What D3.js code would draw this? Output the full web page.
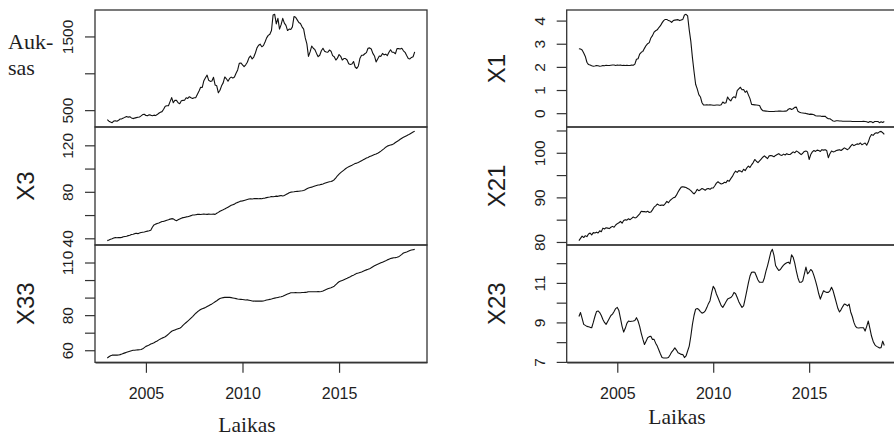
<!DOCTYPE html>
<html><head><meta charset="utf-8">
<script src="https://cdn.jsdelivr.net/npm/d3@7"></script>
<style>html,body{margin:0;padding:0;background:#fff;}svg{display:block;}</style>
</head><body>
<svg id="c" width="894" height="435"></svg>
<script>
// Monthly series, Jan 2003 .. Dec 2018
const startYear = 2003;
const auksas = [
370,350,338,330,352,356,350,362,380,382,392,405,
414,405,410,395,385,392,398,404,408,422,440,445,
428,425,436,432,425,432,426,440,458,472,480,512,
552,560,560,615,670,600,635,632,600,588,628,632,
635,668,658,682,668,658,668,670,715,760,810,808,
900,940,975,905,890,895,945,840,830,735,770,830,
870,950,925,892,930,948,935,950,1000,1045,1135,1140,
1115,1090,1115,1150,1210,1235,1195,1220,1275,1345,1380,1395,
1360,1375,1425,1480,1515,1530,1580,1790,1800,1670,1745,1600,
1660,1745,1680,1650,1580,1600,1595,1630,1770,1760,1725,1690,
1675,1630,1600,1480,1400,1230,1290,1370,1340,1320,1270,1225,
1245,1305,1340,1300,1290,1285,1315,1300,1240,1225,1180,1205,
1255,1230,1180,1200,1200,1180,1130,1120,1125,1160,1085,1065,
1100,1205,1245,1245,1265,1280,1340,1345,1330,1270,1235,1155,
1195,1235,1230,1270,1250,1260,1240,1285,1320,1285,1285,1265,
1335,1335,1330,1340,1305,1285,1240,1200,1195,1215,1225,1290];
const x3 = [
38.0,38.5,39.2,39.6,40.2,40.6,40.5,40.7,40.6,40.8,41.3,41.6,
41.8,42.3,42.6,43.2,43.5,44.0,44.3,44.0,44.6,45.0,45.2,45.4,
45.8,46.2,46.5,47.0,49.5,51.5,52.2,52.8,53.2,53.8,54.4,54.6,
55.0,55.6,56.0,56.5,56.9,56.7,55.8,55.2,55.9,56.6,57.3,57.8,
58.0,58.4,58.5,59.0,59.5,60.1,60.0,60.3,60.6,60.7,60.5,60.7,
60.8,60.7,60.6,60.8,60.7,60.7,60.8,60.6,61.5,62.3,63.3,64.0,
64.5,65.3,66.0,66.8,67.6,68.4,68.9,69.4,70.3,70.9,71.4,72.0,
72.2,72.6,73.0,73.4,73.8,74.0,73.8,74.1,74.2,74.1,74.0,74.2,
74.0,74.4,74.6,75.0,75.3,75.6,76.0,75.7,76.0,76.3,76.1,76.5,
76.8,76.4,76.9,77.6,78.4,79.2,79.7,79.8,80.0,80.3,80.4,80.5,
80.7,80.9,81.2,81.8,82.6,83.3,83.7,84.0,84.5,85.0,85.4,85.8,
86.0,86.4,86.8,87.3,87.8,88.3,88.6,88.9,89.4,90.4,92.0,93.8,
95.2,96.5,97.6,98.7,99.8,100.8,101.6,102.3,102.9,103.6,104.3,104.7,
105.3,106.0,106.8,107.5,108.3,109.0,109.6,110.3,110.9,111.5,112.1,112.5,
113.2,114.0,115.0,116.1,117.2,118.4,119.3,119.8,120.3,120.6,121.4,122.4,
123.3,124.2,125.2,126.1,126.9,127.6,128.3,129.0,129.8,130.6,131.4,132.0];
const x33 = [
55.6,56.3,56.9,57.2,57.2,57.3,57.2,57.3,57.5,57.8,58.2,58.5,
58.8,59.1,59.4,59.7,60.0,60.0,60.1,60.2,60.3,60.4,60.8,61.5,
62.2,62.6,63.0,63.5,63.9,64.3,64.8,65.3,65.9,66.4,66.9,67.3,
67.7,68.4,69.2,70.0,70.8,71.2,71.6,72.0,72.3,72.5,73.2,74.2,
75.0,75.8,76.6,77.4,78.3,79.2,80.2,81.1,81.9,82.6,83.2,83.7,
84.0,84.4,84.9,85.4,85.9,86.4,87.0,87.6,88.2,88.9,89.5,89.8,
90.0,90.1,90.1,90.2,90.1,90.0,89.8,89.6,89.4,89.2,89.1,89.0,
88.9,88.8,88.6,88.7,88.5,88.3,88.1,88.0,88.1,88.0,88.0,88.0,
88.0,88.1,88.3,88.6,88.8,89.0,89.2,89.5,89.7,89.9,90.1,90.3,
90.5,90.8,91.2,91.6,92.0,92.4,92.8,92.8,92.8,92.9,92.8,92.8,
92.8,92.9,92.9,93.0,93.1,93.3,93.3,93.3,93.3,93.3,93.3,93.4,
93.3,93.5,93.8,94.2,94.6,95.0,95.3,95.6,96.0,96.5,97.4,98.3,
99.0,99.4,99.8,100.2,100.6,101.0,101.5,101.9,102.4,102.8,103.3,103.8,
104.0,104.3,104.6,105.0,105.4,105.8,106.1,106.5,107.0,107.6,108.1,108.6,
109.0,109.4,109.8,110.2,110.6,111.0,111.5,111.9,112.3,112.5,112.7,112.8,
113.0,113.3,113.9,114.6,115.4,115.7,116.0,116.4,116.8,117.1,117.3,117.5];
const x1 = [
2.78,2.77,2.73,2.60,2.45,2.20,2.10,2.08,2.05,2.03,2.04,2.06,
2.05,2.03,2.04,2.06,2.05,2.07,2.06,2.06,2.07,2.08,2.08,2.06,
2.08,2.07,2.08,2.06,2.07,2.06,2.07,2.06,2.06,2.08,2.07,2.12,
2.33,2.35,2.55,2.63,2.67,2.80,2.92,3.00,3.05,3.25,3.35,3.50,
3.56,3.60,3.70,3.78,3.90,4.00,4.05,4.05,4.00,3.98,3.92,4.00,
4.02,4.03,4.04,4.00,4.03,4.05,4.24,4.27,4.20,3.60,3.10,2.40,
1.80,1.25,1.05,0.80,0.70,0.45,0.35,0.35,0.36,0.35,0.36,0.35,
0.34,0.34,0.35,0.35,0.34,0.36,0.48,0.43,0.45,0.70,0.59,0.53,
0.66,0.71,0.66,0.97,1.05,1.12,1.01,1.02,0.90,0.96,0.79,0.63,
0.38,0.37,0.36,0.35,0.34,0.33,0.18,0.11,0.10,0.09,0.08,0.07,
0.07,0.07,0.07,0.08,0.08,0.09,0.09,0.08,0.08,0.09,0.10,0.17,
0.20,0.16,0.19,0.25,0.26,0.08,0.04,0.02,0.01,0.00,-0.01,-0.03,
-0.05,-0.04,-0.05,-0.07,-0.11,-0.12,-0.12,-0.12,-0.14,-0.14,-0.13,-0.20,
-0.24,-0.24,-0.29,-0.34,-0.35,-0.33,-0.33,-0.34,-0.34,-0.35,-0.35,-0.35,
-0.35,-0.35,-0.35,-0.36,-0.36,-0.36,-0.36,-0.36,-0.36,-0.36,-0.35,-0.36,
-0.37,-0.40,-0.36,-0.37,-0.41,-0.36,-0.36,-0.36,-0.41,-0.37,-0.40,-0.36];
const x21 = [
80.3,80.8,81.3,81.0,81.4,81.2,81.8,82.0,81.6,82.1,82.0,82.2,
82.0,82.5,82.3,83.1,82.9,83.2,83.1,83.0,83.3,83.5,83.3,83.8,
84.1,84.3,84.6,84.2,84.8,85.0,84.9,85.2,85.0,85.3,85.6,85.4,
85.5,85.9,86.3,86.9,86.8,86.8,86.7,86.9,86.6,86.7,87.2,87.8,
88.1,88.5,88.3,88.2,88.3,88.2,88.6,89.1,88.8,89.3,89.6,89.9,
90.0,90.5,91.2,91.8,92.3,92.4,92.3,92.2,92.0,91.8,91.5,91.1,
90.8,91.2,91.8,91.5,91.7,92.0,91.8,91.6,91.9,92.0,91.8,92.1,
92.1,92.6,93.2,93.5,93.2,93.0,93.1,93.4,93.3,93.8,93.6,94.2,
94.7,95.4,95.9,95.6,96.0,95.9,95.7,96.3,96.0,96.6,97.0,96.7,
97.3,97.8,98.5,98.1,97.8,98.2,98.6,99.0,99.3,99.0,98.7,99.3,
99.4,99.3,99.1,99.4,99.6,99.8,99.5,99.4,99.7,99.5,99.8,99.6,
99.6,99.9,100.2,100.0,100.4,100.2,99.9,99.6,99.9,100.3,100.4,100.2,
98.5,99.6,100.2,100.5,100.3,100.6,100.5,100.3,100.7,100.6,100.7,100.5,
98.9,99.8,100.4,100.2,100.3,100.5,100.6,100.7,100.5,100.8,101.1,100.9,
100.7,101.0,101.5,101.9,101.6,101.8,102.0,101.9,102.2,101.8,102.0,102.2,
101.7,102.4,103.5,104.1,103.9,104.3,104.5,104.4,104.7,104.8,104.5,104.1];
const x23 = [
9.30,9.50,9.20,8.90,8.85,8.80,8.78,8.75,8.73,9.00,9.30,9.55,
9.58,9.50,9.35,9.15,9.00,8.90,9.05,9.20,9.35,9.42,9.55,9.70,
9.76,9.60,9.20,8.80,8.51,8.70,8.95,9.07,9.05,9.06,9.07,9.10,
9.24,9.07,8.80,8.45,8.15,7.88,8.05,8.22,8.28,8.30,8.14,8.14,
7.95,7.80,7.60,7.40,7.22,7.20,7.20,7.20,7.22,7.35,7.50,7.60,
7.71,7.60,7.46,7.42,7.38,7.37,7.22,7.30,7.55,7.80,8.30,8.90,
9.35,9.67,9.70,9.65,9.55,9.47,9.50,9.58,9.75,9.95,10.10,10.50,
10.83,10.70,10.44,10.25,10.05,9.85,9.76,9.90,10.05,10.18,10.22,10.26,
10.35,10.52,10.45,10.26,10.05,9.90,9.76,9.84,10.20,10.60,11.00,11.35,
11.54,11.55,11.54,11.35,11.15,11.03,11.03,11.03,11.25,11.60,11.88,12.20,
12.55,12.70,12.40,11.88,11.75,11.63,11.68,11.80,11.90,11.97,12.02,12.05,
11.97,12.42,12.30,12.00,11.60,11.25,11.03,11.03,11.10,11.45,11.80,11.46,
11.55,11.68,11.60,11.37,11.10,10.80,10.45,10.18,10.40,10.60,10.55,10.52,
10.52,10.60,10.78,10.60,10.30,10.00,9.70,9.53,9.65,9.80,9.93,9.90,
9.84,9.93,9.53,9.30,9.00,8.80,8.73,8.72,8.73,8.73,8.73,8.56,
8.80,9.07,8.70,8.31,8.05,7.88,7.80,7.75,7.71,7.72,8.05,7.83];

const xTicks = [2005, 2010, 2015];
const xTickLabels = ["2005", "2010", "2015"];
const xTitle = "Laikas";

const panelNames = ["Auksas", "X3", "X33", "X1", "X21", "X23"];
const panelSeries = [auksas, x3, x33, x1, x21, x23];
const yTicksAuksas = [500, 1000, 1500];   const yLabAuksas = ["500", "", "1500"];
const yTicksX3 = [40, 60, 80, 100, 120];   const yLabX3 = ["40", "", "80", "", "120"];
const yTicksX33 = [60, 70, 80, 90, 100, 110]; const yLabX33 = ["60", "", "80", "", "", "110"];
const yTicksX1 = [0, 1, 2, 3, 4];          const yLabX1 = ["0", "1", "2", "3", "4"];
const yTicksX21 = [80, 85, 90, 95, 100, 105]; const yLabX21 = ["80", "", "90", "", "100", ""];
const yTicksX23 = [7, 8, 9, 10, 11, 12];   const yLabX23 = ["7", "", "9", "", "11", ""];
const panelTicks = [yTicksAuksas, yTicksX3, yTicksX33, yTicksX1, yTicksX21, yTicksX23];
const panelTickLabels = [yLabAuksas, yLabX3, yLabX33, yLabX1, yLabX21, yLabX23];

// ---- layout ----
const svg = d3.select("#c");
const cols = [
  {x0: 95, x1: 427, titleX: 34, laikasX: 247, laikasY: 431.5},
  {x0: 566.7, x1: 896.5, titleX: 505, laikasX: 677, laikasY: 424}
];
const rows = [[10, 127], [127, 245], [245, 362.3]];
const textCol = "#1e1e1e";
const sans = "'Liberation Sans', Arial, sans-serif";
const serif = "'Liberation Serif', 'Times New Roman', serif";

const times = d3.range(auksas.length).map(i => startYear + i / 12);
const tExt = d3.extent(times);
const tPad = (tExt[1] - tExt[0]) * 0.04;

panelNames.forEach((name, p) => {
  const col = cols[Math.floor(p / 3)];
  const row = rows[p % 3];
  const vals = panelSeries[p];
  const ext = d3.extent(vals);
  const pad = (ext[1] - ext[0]) * 0.04;
  const x = d3.scaleLinear().domain([tExt[0] - tPad, tExt[1] + tPad]).range([col.x0, col.x1]);
  const y = d3.scaleLinear().domain([ext[0] - pad, ext[1] + pad]).range([row[1], row[0]]);
  const g = svg.append("g");

  // y axis (ticks + labels rotated, R style)
  const ticks = panelTicks[p], labs = panelTickLabels[p];
  const ax = d3.axisLeft(y).tickValues(ticks).tickSize(10).tickSizeOuter(0)
    .tickFormat((d, i) => labs[i]);
  const ag = g.append("g").attr("transform", `translate(${col.x0},0)`).call(ax);
  ag.select(".domain").remove();
  ag.selectAll(".tick line").attr("stroke", "#333").attr("stroke-width", 1.2);
  ag.selectAll(".tick text")
    .attr("x", null).attr("dy", null)
    .attr("transform", "translate(-22,0) rotate(-90)")
    .attr("text-anchor", "middle")
    .attr("fill", textCol)
    .style("font-family", sans).style("font-size", "15.5px");

  // series line
  const line = d3.line().x((d, i) => x(times[i])).y(d => y(d));
  g.append("path").datum(vals).attr("d", line)
    .attr("fill", "none").attr("stroke", "#111").attr("stroke-width", 1.1)
    .attr("stroke-linejoin", "round");

  // box
  g.append("rect").attr("x", col.x0).attr("y", row[0])
    .attr("width", col.x1 - col.x0).attr("height", row[1] - row[0])
    .attr("fill", "none").attr("stroke", "#333").attr("stroke-width", 1.3);

  // y title
  if (name === "Auksas") {
    const t = g.append("text").attr("fill", textCol)
      .style("font-family", serif).style("font-size", "22px");
    t.append("tspan").attr("x", 8).attr("y", 49).text("Auk-");
    t.append("tspan").attr("x", 8).attr("y", 75).text("sas");
  } else {
    g.append("text")
      .attr("transform", `translate(${col.titleX},${(row[0] + row[1]) / 2}) rotate(-90)`)
      .attr("text-anchor", "middle").attr("fill", textCol)
      .style("font-family", sans).style("font-size", "24px")
      .text(name);
  }

  // x axis on bottom panel
  if (p % 3 === 2) {
    const xa = d3.axisBottom(x).tickValues(xTicks).tickSize(10.5).tickSizeOuter(0)
      .tickFormat((d, i) => xTickLabels[i]);
    const xg = g.append("g").attr("transform", `translate(0,${row[1]})`).call(xa);
    xg.select(".domain").attr("stroke", "#333").attr("stroke-width", 1.2);
    xg.selectAll(".tick line").attr("stroke", "#333").attr("stroke-width", 1.2);
    xg.selectAll(".tick text").attr("y", 37).attr("dy", null)
      .attr("fill", textCol).style("font-family", sans).style("font-size", "16px");
    g.append("text").attr("x", col.laikasX).attr("y", col.laikasY)
      .attr("text-anchor", "middle").attr("fill", textCol)
      .style("font-family", serif).style("font-size", "21.5px").text(xTitle);
  }
});
</script>
</body></html>
